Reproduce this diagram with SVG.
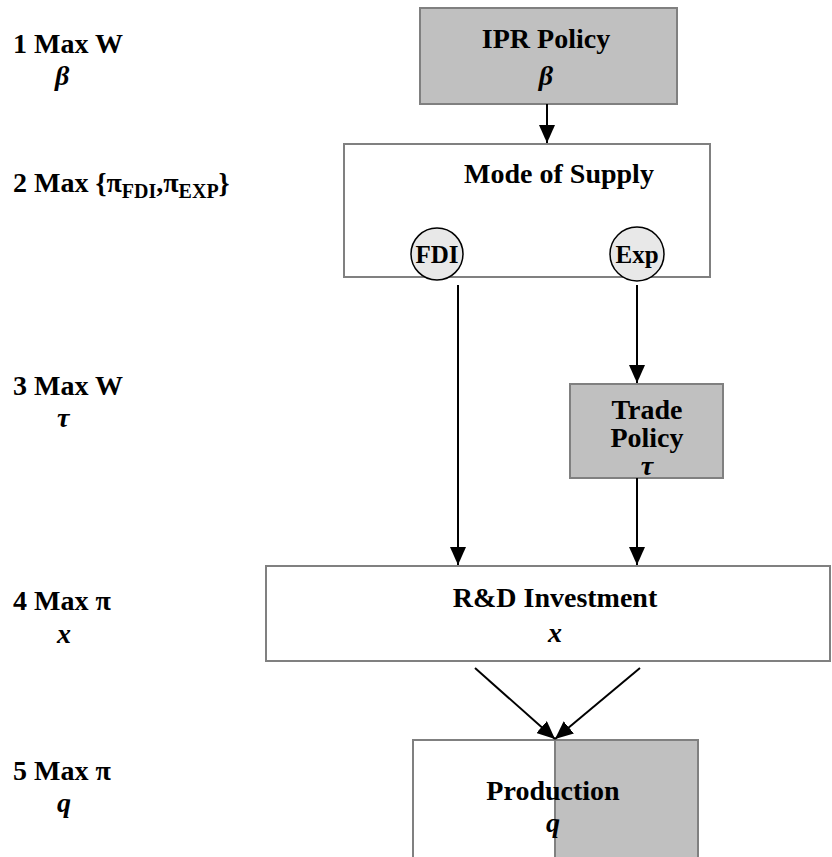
<svg xmlns="http://www.w3.org/2000/svg" width="832" height="857" viewBox="0 0 832 857">
<defs>
<marker id="ah" viewBox="0 0 10 10" refX="10" refY="5" markerWidth="18" markerHeight="16" markerUnits="userSpaceOnUse" orient="auto" preserveAspectRatio="none">
<path d="M0,0 L10,5 L0,10 Z" fill="#000"/>
</marker>
<style>
text{font-family:"Liberation Serif","Times New Roman",serif;font-weight:bold;font-size:28px;fill:#000}
.c{text-anchor:middle}
.i{font-style:italic}
.s{font-size:25px}
.g{fill:#c0c0c0;stroke:#808080;stroke-width:2}
.w{fill:#fff;stroke:#808080;stroke-width:2}
.ci{fill:#e8e8e8;stroke:#000;stroke-width:1.5}
.ln{stroke:#000;stroke-width:2;fill:none;marker-end:url(#ah)}
</style>
</defs>
<rect width="832" height="857" fill="#fff"/>
<g id="labels">
<text x="13" y="53">1 Max W</text>
<text x="55" y="85" class="i">β</text>
<text x="13" y="192">2 Max {π<tspan font-size="20" dy="6">FDI</tspan><tspan dy="-6">,π</tspan><tspan font-size="20" dy="6">EXP</tspan><tspan dy="-6">}</tspan></text>
<text x="13" y="395">3 Max W</text>
<text x="57" y="427" class="i">τ</text>
<text x="13" y="610">4 Max π</text>
<text x="57" y="643" class="i">x</text>
<text x="13" y="780">5 Max π</text>
<text x="57" y="812" class="i">q</text>
</g>
<g id="ipr">
<rect class="g" x="420" y="8" width="257" height="96"/>
<text class="c" x="546" y="48">IPR Policy</text>
<text class="c i" x="546" y="85">β</text>
</g>
<g id="mode">
<rect class="w" x="344" y="144" width="366" height="133"/>
<text class="c" x="559" y="183">Mode of Supply</text>
</g>
<g id="fdi">
<circle class="ci" cx="437" cy="254" r="26"/>
<text class="c s" x="437" y="263">FDI</text>
</g>
<g id="exp">
<circle class="ci" cx="637" cy="254" r="27"/>
<text class="c s" x="637" y="263">Exp</text>
</g>
<g id="trade">
<rect class="g" x="570" y="384" width="153" height="94"/>
<text class="c" x="647" y="419"><tspan x="647" y="419">Trade</tspan><tspan x="647" y="447">Policy</tspan><tspan x="647" y="475" class="i">τ</tspan></text>
</g>
<g id="rd">
<rect class="w" x="266" y="566" width="564" height="95"/>
<text class="c" x="555" y="607">R&amp;D Investment</text>
<text class="c i" x="555" y="642">x</text>
</g>
<g id="production">
<rect class="w" x="413" y="740" width="142" height="130"/>
<rect class="g" x="555" y="740" width="143" height="130"/>
<text class="c" x="553" y="800">Production</text>
<text class="c i" x="553" y="832">q</text>
</g>
<g id="connectors">
<line class="ln" x1="547" y1="104" x2="547" y2="143"/>
<line class="ln" x1="458" y1="285" x2="458" y2="565"/>
<line class="ln" x1="637" y1="285" x2="637" y2="383"/>
<line class="ln" x1="637" y1="478" x2="637" y2="565"/>
<line class="ln" x1="475" y1="668" x2="555" y2="739"/>
<line class="ln" x1="640" y1="668" x2="555" y2="739"/>
</g>
</svg>
